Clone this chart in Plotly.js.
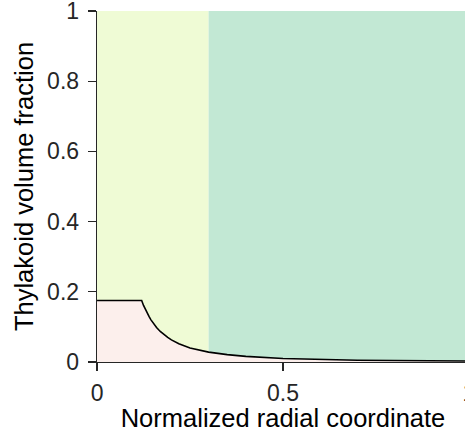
<!DOCTYPE html>
<html>
<head>
<meta charset="utf-8">
<script src="https://cdn.plot.ly/plotly-3.0.1.min.js"></script>
<style>
  html, body { margin: 0; padding: 0; overflow: hidden; background: #fff; }
  #chart { width: 472px; height: 432px; }
</style>
</head>
<body>
<div id="chart"></div>
<script>
// Radial profile of thylakoid volume fraction
const radius = [0, 0.12, 0.125, 0.13, 0.135, 0.14, 0.145, 0.15, 0.16, 0.17, 0.18, 0.19, 0.2,
                0.22, 0.25, 0.3, 0.35, 0.4, 0.5, 0.6, 0.7, 0.8, 0.9, 1.0];
const volumeFraction = [0.175, 0.175, 0.161, 0.149, 0.138, 0.129, 0.120, 0.112, 0.098, 0.087,
                        0.078, 0.070, 0.063, 0.052, 0.040, 0.028, 0.021, 0.016, 0.010, 0.007,
                        0.005, 0.004, 0.003, 0.0025];

// Background zones along the radius
const zoneStarts = [0, 0.3];
const zoneEnds = [0.3, 1];
const zoneColors = ['#effbd5', '#c2e8d4'];

const xTicks = [0, 0.5, 1];
const xTickLabels = ['0', '0.5', '1'];
const yTicks = [0, 0.2, 0.4, 0.6, 0.8, 1];
const yTickLabels = ['0', '0.2', '0.4', '0.6', '0.8', '1'];

const ink = '#262626';
const fontFamily = 'Liberation Sans, Arial, Helvetica, sans-serif';

const shapes = zoneStarts.map((x0, i) => ({
  type: 'rect', xref: 'x', yref: 'y', layer: 'below',
  x0: x0, x1: zoneEnds[i], y0: 0, y1: 1,
  fillcolor: zoneColors[i], line: { width: 0 }
}));

const trace = {
  x: radius,
  y: volumeFraction,
  type: 'scatter',
  mode: 'lines',
  fill: 'tozeroy',
  fillcolor: '#fcefec',
  line: { color: '#000000', width: 1.6 },
  hoverinfo: 'skip'
};

const axisCommon = {
  showgrid: false,
  zeroline: false,
  showline: true,
  linecolor: ink,
  linewidth: 1.3,
  ticks: 'outside',
  ticklen: 8,
  tickwidth: 1.3,
  tickcolor: ink,
  tickfont: { family: fontFamily, size: 23, color: ink },
  ticklabeloverflow: 'allow',
  tickmode: 'array',
  fixedrange: true
};

const layout = {
  width: 472,
  height: 432,
  margin: { l: 97, r: 3, t: 11, b: 70 },
  paper_bgcolor: '#ffffff',
  plot_bgcolor: '#ffffff',
  showlegend: false,
  shapes: shapes,
  xaxis: Object.assign({}, axisCommon, {
    range: [-0.0001, 1.0001],
    tickvals: xTicks,
    ticktext: xTickLabels,
    ticklabelstandoff: 2,
    title: { text: 'Normalized radial coordinate', font: { family: fontFamily, size: 25.5, color: '#000' }, standoff: 0 }
  }),
  yaxis: Object.assign({}, axisCommon, {
    range: [-0.0001, 1.0001],
    tickvals: yTicks,
    ticktext: yTickLabels,
    ticklabelstandoff: 4,
    title: { text: 'Thylakoid volume fraction', font: { family: fontFamily, size: 25.5, color: '#000' }, standoff: 6 }
  })
};

Plotly.newPlot('chart', [trace], layout, { staticPlot: true, displayModeBar: false });
</script>
</body>
</html>
